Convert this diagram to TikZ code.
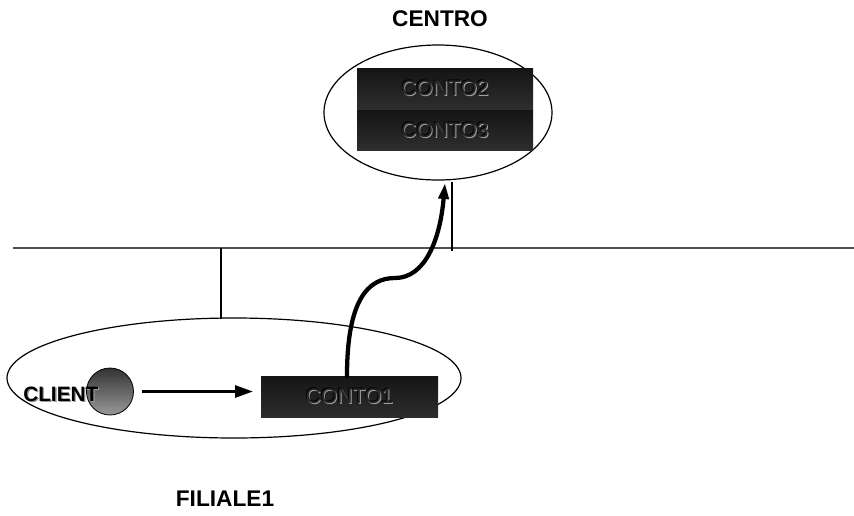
\documentclass[tikz,border=0pt]{standalone}
\usepackage{fontspec}
\setmainfont{Liberation Sans}
\usetikzlibrary{shapes.geometric,arrows.meta}
\definecolor{embhi}{HTML}{A0A0A0}
\definecolor{embmid}{HTML}{2A2A2A}
\definecolor{netgray}{HTML}{505050}
\newcommand\embtext[1]{\leavevmode\rlap{\raisebox{-0.7pt}{\hspace{0.7pt}\textcolor{embhi}{#1}}}\rlap{\raisebox{0.6pt}{\hspace{-0.6pt}\textcolor{black}{#1}}}\textcolor{embmid}{#1}}
\newcommand\shadtext[1]{\leavevmode\rlap{\raisebox{-1pt}{\hspace{1pt}\textcolor{gray!80}{#1}}}\textcolor{black}{#1}}
\tikzset{
  site/.style={ellipse, draw=black, line width=0.9pt, inner sep=0pt, outer sep=0pt, fill=white},
  acct/.style={rectangle, inner sep=0pt, outer sep=0pt, top color=black!92, bottom color=black!82,
    font=\fontsize{15.8pt}{17pt}\selectfont, text=embmid},
  label/.style={font=\bfseries\fontsize{17pt}{18pt}\selectfont, text=black},
  netline/.style={draw=netgray, line width=1.6pt},
  drop/.style={draw=black, line width=1.1pt},
  flow/.style={draw=black, line width=2.25pt, -{Triangle[length=13.5pt,width=9pt]}},
  flowc/.style={draw=black, line width=3.2pt, line cap=round, -{Triangle[length=12pt,width=7.5pt]}},
}
\begin{document}
\begin{tikzpicture}[x=0.75pt,y=-0.75pt]
\path[use as bounding box, fill=white] (0,0) rectangle (854,515);
% sites
\node[site, minimum width=171pt, minimum height=101.25pt] (centro) at (438,112.5) {};
\node[site, minimum width=340.5pt, minimum height=90pt] (filiale) at (234,378) {};
% network
\coordinate (netL) at (13,248);
\coordinate (netR) at (854,248);
\coordinate (dropF) at (221,248);
\coordinate (dropFend) at (221,318.5);
\coordinate (dropC) at (452,182);
\coordinate (dropCend) at (452,251);
\draw[netline] (netL) -- (netR);
\draw[drop] (dropF) -- (dropFend);
\draw[drop] (dropC) -- (dropCend);
% accounts
\node[acct, minimum width=132pt, minimum height=30.75pt] (conto2) at (445,88.5) {\embtext{CONTO2}};
\node[acct, minimum width=132pt, minimum height=30pt] (conto3) at (445,130) {\embtext{CONTO3}};
\node[acct, minimum width=132.75pt, minimum height=30.75pt] (conto1) at (349.5,396.5) {\embtext{CONTO1}};
% client
\node[circle, draw=black, line width=0.6pt, minimum size=35.25pt, inner sep=0pt, top color=black!80, bottom color=black!40] (client) at (110,391.5) {};
\node[font=\bfseries\fontsize{15.6pt}{17pt}\selectfont, anchor=west, inner sep=0pt] (clientlbl) at (23,395) {\shadtext{CLIENT}};
% labels
\node[label] (centrolbl) at (440,19) {CENTRO};
\node[label] (filialelbl) at (225,499) {FILIALE1};
% flows
\coordinate (hstart) at (142,391.5);
\coordinate (hend) at (253,391.5);
\draw[flow] (hstart) -- (hend);
\coordinate (cstart) at (347,376);
\coordinate (ctip) at (445,183);
\draw[flowc] (cstart) .. controls (347,300) and (368,278) .. (395,278)
  .. controls (425,278) and (440,240) .. (ctip);
\end{tikzpicture}
\end{document}
